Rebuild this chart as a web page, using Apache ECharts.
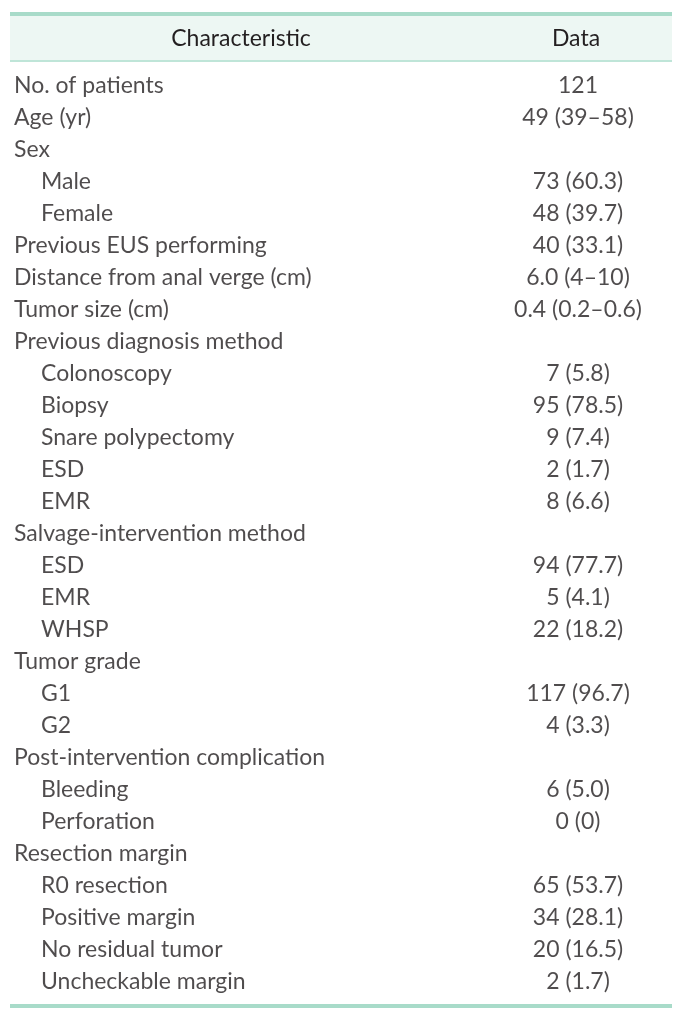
<!DOCTYPE html>
<html><head><meta charset="utf-8">
<script src="https://cdn.jsdelivr.net/npm/echarts@6/dist/echarts.min.js"></script>
<style>html,body{margin:0;padding:0;background:#fff}#c{width:682px;height:1018px}</style>
</head><body><div id="c"></div>
<script>
const headers = ['Characteristic', 'Data'];
const characteristics = [
  'No. of patients', 'Age (yr)', 'Sex', 'Male', 'Female', 'Previous EUS performing',
  'Distance from anal verge (cm)', 'Tumor size (cm)', 'Previous diagnosis method',
  'Colonoscopy', 'Biopsy', 'Snare polypectomy', 'ESD', 'EMR',
  'Salvage-intervention method', 'ESD', 'EMR', 'WHSP', 'Tumor grade', 'G1', 'G2',
  'Post-intervention complication', 'Bleeding', 'Perforation', 'Resection margin',
  'R0 resection', 'Positive margin', 'No residual tumor', 'Uncheckable margin'
];
const indentLevels = [0,0,0,1,1,0,0,0,0,1,1,1,1,1,0,1,1,1,0,1,1,0,1,1,0,1,1,1,1];
const dataValues = [
  '121', '49 (39–58)', '', '73 (60.3)', '48 (39.7)', '40 (33.1)', '6.0 (4–10)',
  '0.4 (0.2–0.6)', '', '7 (5.8)', '95 (78.5)', '9 (7.4)', '2 (1.7)', '8 (6.6)',
  '', '94 (77.7)', '5 (4.1)', '22 (18.2)', '', '117 (96.7)', '4 (3.3)', '',
  '6 (5.0)', '0 (0)', '', '65 (53.7)', '34 (28.1)', '20 (16.5)', '2 (1.7)'
];

const FONT = 'Lato';
const FS = 23;
const TXT = '#231f20';
const rows = characteristics.map((_, i) => 'r' + i);

const chart = echarts.init(document.getElementById('c'), null, {renderer: 'canvas'});
chart.setOption({
  animation: false,
  grid: {left: 0, right: 0, top: 70, bottom: 20},
  xAxis: {type: 'value', min: 0, max: 682, show: false},
  yAxis: {type: 'category', data: rows, inverse: true, show: false},
  graphic: [
    {type: 'rect', shape: {x: 10, y: 14, width: 662, height: 47}, style: {fill: '#edf7f3'}, silent: true},
    {type: 'rect', shape: {x: 10, y: 12, width: 662, height: 4}, style: {fill: '#a8dbc9'}, silent: true},
    {type: 'rect', shape: {x: 10, y: 60, width: 662, height: 2}, style: {fill: '#bfe5d8'}, silent: true},
    {type: 'rect', shape: {x: 10, y: 1004, width: 662, height: 4}, style: {fill: '#a8dbc9'}, silent: true},
    {type: 'text', x: 241, y: 39, style: {text: headers[0], font: FS + 'px ' + FONT, fill: TXT, align: 'center', verticalAlign: 'middle'}},
    {type: 'text', x: 576, y: 39, style: {text: headers[1], font: FS + 'px ' + FONT, fill: TXT, align: 'center', verticalAlign: 'middle'}}
  ],
  series: [
    {
      type: 'scatter', symbolSize: 0, silent: true,
      data: characteristics.map((t, i) => ({value: [indentLevels[i] ? 41 : 14, rows[i]], name: t})),
      label: {show: true, position: 'right', distance: 0, formatter: p => p.name,
        fontFamily: FONT, fontSize: FS, color: TXT, align: 'left', verticalAlign: 'middle'}
    },
    {
      type: 'scatter', symbolSize: 0, silent: true,
      data: dataValues.map((t, i) => ({value: [578, rows[i]], name: t})),
      label: {show: true, position: 'inside', formatter: p => p.name,
        fontFamily: FONT, fontSize: FS, color: TXT, align: 'center', verticalAlign: 'middle'}
    }
  ]
});
</script></body></html>
